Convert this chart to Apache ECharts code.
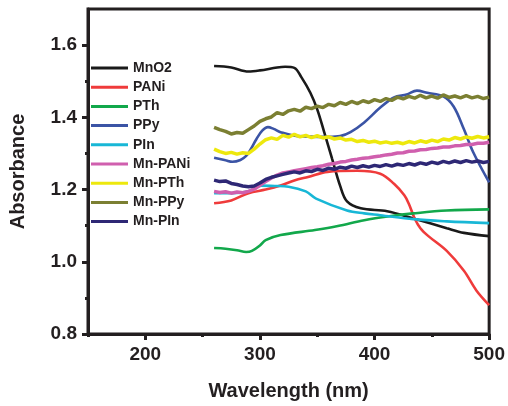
<!DOCTYPE html>
<html>
<head>
<meta charset="utf-8">
<script src="https://cdn.jsdelivr.net/npm/echarts@6/dist/echarts.min.js"></script>
<style>
  html, body { margin: 0; padding: 0; background: #fff; }
  #chart { width: 508px; height: 406px; }
</style>
</head>
<body>
<div id="chart"></div>
<script>
// UV-Vis absorbance spectra, wavelength (nm) vs absorbance
const seriesNames = ['MnO2', 'PANi', 'PTh', 'PPy', 'PIn', 'Mn-PANi', 'Mn-PTh', 'Mn-PPy', 'Mn-PIn'];
const seriesColors = ['#1a1a1a', '#ef3b3b', '#12a84b', '#3b54a5', '#18b7d6', '#d05fae', '#ede80d', '#7b7f32', '#2e2875'];

const xMajorTicks = [200, 300, 400, 500];
const xMinorTicks = [150, 250, 350, 450];
const yMajorTicks = [0.8, 1.0, 1.2, 1.4, 1.6];
const yMinorTicks = [0.9, 1.1, 1.3, 1.5];

const mno2 = [[260,1.542],[275,1.538],[290,1.527],[300,1.530],[315,1.538],[322,1.540],[330,1.537],[336,1.512],[344,1.468],[350,1.422],[356,1.36],[363,1.285],[370,1.21],[376,1.167],[388,1.148],[411,1.140],[434,1.12],[463,1.093],[478,1.08],[500,1.071]];

const pani = [[260,1.162],[275,1.17],[290,1.19],[305,1.20],[318,1.211],[330,1.225],[342,1.235],[359,1.249],[385,1.252],[405,1.244],[417,1.216],[426,1.184],[430,1.160],[435,1.12],[440,1.093],[447,1.071],[463,1.03],[478,0.975],[489,0.92],[500,0.88]];

const pth = [[260,1.038],[270,1.036],[280,1.032],[288,1.027],[293,1.03],[300,1.045],[305,1.06],[318,1.074],[348,1.088],[368,1.099],[391,1.115],[413,1.126],[434,1.134],[463,1.142],[500,1.145]];

const ppy = [[260,1.288],[270,1.281],[276,1.277],[283,1.282],[288,1.293],[292,1.312],[297,1.34],[302,1.363],[307,1.373],[312,1.368],[318,1.359],[333,1.348],[360,1.346],[370,1.348],[379,1.359],[391,1.386],[405,1.427],[417,1.455],[428,1.463],[437,1.474],[446,1.468],[460,1.458],[469,1.43],[478,1.367],[486,1.304],[500,1.22]];

const pin = [[260,1.19],[275,1.19],[290,1.195],[301,1.211],[313,1.21],[325,1.208],[340,1.195],[349,1.175],[376,1.142],[391,1.134],[405,1.129],[434,1.118],[463,1.112],[500,1.107]];

const mnPani = [[260,1.195],[265,1.192],[270,1.194],[275,1.190],[280,1.193],[285,1.191],[290,1.195],[295,1.201],[300,1.212],[305,1.222],[310,1.232],[315,1.240],[320,1.246],[325,1.249],[330,1.252],[335,1.255],[340,1.258],[345,1.261],[350,1.263],[355,1.266],[360,1.270],[365,1.272],[370,1.276],[375,1.278],[380,1.282],[385,1.284],[390,1.287],[395,1.288],[400,1.291],[405,1.293],[410,1.296],[415,1.298],[420,1.301],[425,1.302],[430,1.306],[435,1.307],[440,1.310],[445,1.311],[450,1.314],[455,1.315],[460,1.318],[465,1.318],[470,1.321],[475,1.322],[480,1.325],[485,1.325],[490,1.328],[495,1.328],[500,1.331]];

const mnPth = [[260,1.312],[265,1.305],[270,1.300],[275,1.303],[280,1.298],[285,1.302],[290,1.300],[295,1.312],[300,1.326],[305,1.338],[310,1.343],[315,1.339],[320,1.350],[325,1.345],[330,1.353],[335,1.346],[340,1.350],[345,1.344],[350,1.349],[355,1.343],[360,1.346],[365,1.340],[370,1.343],[375,1.337],[380,1.339],[385,1.333],[390,1.336],[395,1.331],[400,1.334],[405,1.329],[410,1.332],[415,1.328],[420,1.331],[425,1.327],[430,1.333],[435,1.329],[440,1.335],[445,1.331],[450,1.337],[455,1.333],[460,1.340],[465,1.337],[470,1.344],[475,1.340],[480,1.346],[485,1.342],[490,1.347],[495,1.343],[500,1.346]];

const mnPpy = [[260,1.372],[265,1.366],[270,1.361],[275,1.354],[280,1.358],[285,1.356],[290,1.366],[295,1.376],[300,1.389],[305,1.396],[310,1.401],[315,1.413],[320,1.408],[325,1.418],[330,1.422],[335,1.417],[340,1.428],[345,1.424],[350,1.431],[355,1.427],[360,1.436],[365,1.432],[370,1.441],[375,1.436],[380,1.444],[385,1.438],[390,1.446],[395,1.441],[400,1.449],[405,1.444],[410,1.452],[415,1.447],[420,1.456],[425,1.451],[430,1.458],[435,1.453],[440,1.461],[445,1.454],[450,1.459],[455,1.453],[460,1.462],[465,1.455],[470,1.459],[475,1.454],[480,1.46],[485,1.454],[490,1.458],[495,1.452],[500,1.456]];

const mnPin = [[260,1.226],[265,1.222],[270,1.224],[275,1.217],[280,1.214],[285,1.210],[290,1.208],[295,1.210],[300,1.218],[305,1.228],[310,1.234],[315,1.238],[320,1.242],[325,1.246],[330,1.249],[335,1.246],[340,1.252],[345,1.250],[350,1.256],[355,1.253],[360,1.259],[365,1.256],[370,1.262],[375,1.259],[380,1.265],[385,1.261],[390,1.266],[395,1.262],[400,1.267],[405,1.264],[410,1.269],[415,1.265],[420,1.270],[425,1.267],[430,1.272],[435,1.268],[440,1.274],[445,1.270],[450,1.276],[455,1.272],[460,1.278],[465,1.274],[470,1.279],[475,1.275],[480,1.280],[485,1.276],[490,1.279],[495,1.275],[500,1.278]];

const seriesData = [mno2, pani, pth, ppy, pin, mnPani, mnPth, mnPpy, mnPin];
const noisy = [false, false, false, false, false, true, true, true, true];

const FONT = '"Liberation Sans", Arial, sans-serif';
const INK = '#231f20';

const chart = echarts.init(document.getElementById('chart'), null, { renderer: 'canvas' });

const baseAxis = {
  axisLine: { show: true, onZero: false, lineStyle: { color: INK, width: 3 } },
  splitLine: { show: false }
};

chart.setOption({
  animation: false,
  backgroundColor: '#fff',
  grid: {
    left: 88, right: 16, top: 9, bottom: 69,
    show: true, borderColor: INK, borderWidth: 3, backgroundColor: 'transparent'
  },
  legend: {
    orient: 'vertical',
    left: 91, top: 61,
    padding: 0,
    icon: 'rect',
    itemWidth: 37, itemHeight: 3, itemGap: 5.2,
    textStyle: { fontFamily: FONT, fontSize: 14, lineHeight: 14, fontWeight: 'bold', color: INK },
    data: seriesNames
  },
  xAxis: [
    Object.assign({}, baseAxis, {
      type: 'value', min: 150, max: 500,
      name: 'Wavelength (nm)', nameLocation: 'middle', nameGap: 47,
      nameTextStyle: { fontFamily: FONT, fontSize: 20, fontWeight: 'bold', color: INK },
      axisTick: { show: true, length: 6, lineStyle: { color: INK, width: 3 }, customValues: xMajorTicks },
      axisLabel: { show: true, margin: 11, fontFamily: FONT, fontSize: 19, fontWeight: 'bold', color: INK, customValues: xMajorTicks }
    }),
    Object.assign({}, baseAxis, {
      type: 'value', min: 150, max: 500, position: 'bottom',
      axisLine: { show: false },
      axisTick: { show: true, length: 3, lineStyle: { color: INK, width: 3 }, customValues: xMinorTicks },
      axisLabel: { show: false }
    })
  ],
  yAxis: [
    Object.assign({}, baseAxis, {
      type: 'value', min: 0.8, max: 1.7,
      name: 'Absorbance', nameLocation: 'middle', nameGap: 60,
      nameTextStyle: { fontFamily: FONT, fontSize: 20, fontWeight: 'bold', color: INK },
      axisTick: { show: true, length: 6, lineStyle: { color: INK, width: 3 }, customValues: yMajorTicks },
      axisLabel: {
        show: true, margin: 11, fontFamily: FONT, fontSize: 19, fontWeight: 'bold', color: INK,
        customValues: yMajorTicks,
        formatter: v => v.toFixed(1)
      }
    }),
    Object.assign({}, baseAxis, {
      type: 'value', min: 0.8, max: 1.7, position: 'left',
      axisLine: { show: false },
      axisTick: { show: true, length: 3, lineStyle: { color: INK, width: 3 }, customValues: yMinorTicks },
      axisLabel: { show: false }
    })
  ],
  series: seriesNames.map((name, i) => ({
    name,
    type: 'line',
    xAxisIndex: 0, yAxisIndex: 0,
    data: seriesData[i],
    showSymbol: false,
    symbol: 'none',
    smooth: noisy[i] ? false : 0.35,
    color: seriesColors[i],
    lineStyle: { color: seriesColors[i], width: noisy[i] ? 3.5 : 2.6 },
    z: 2
  }))
});
</script>
</body>
</html>
